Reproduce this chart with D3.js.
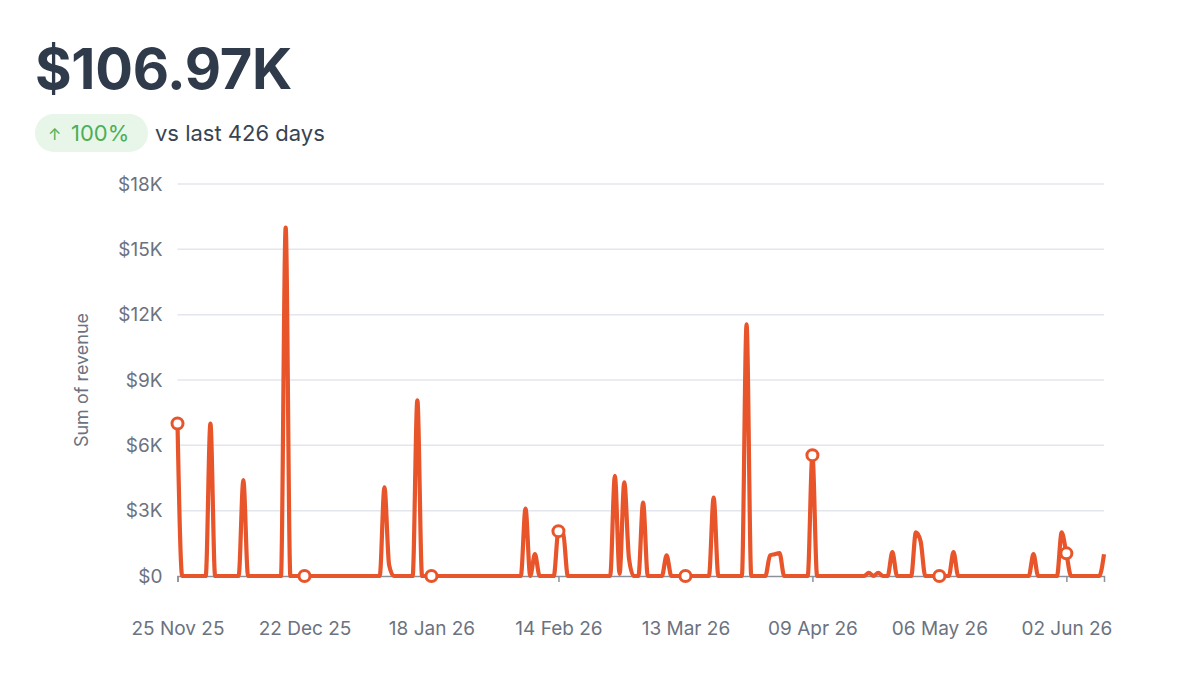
<!DOCTYPE html>
<html>
<head>
<meta charset="utf-8">
<script src="https://cdn.jsdelivr.net/npm/d3@7"></script>
<style>
  body { margin: 0; background: #fff; font-family: Inter, "Noto Sans", sans-serif; }
  .chart text { font-family: Inter, "Noto Sans", sans-serif; }
</style>
</head>
<body>
<div class="chart"></div>
<script>
// Revenue chart

var svgWidth = 1200;
var svgHeight = 685;

var margin = { top: 184, right: 96, bottom: 109, left: 177.5 };
var width = 1104 - margin.left;
var height = 576 - margin.top;

// headline numbers
var totalLabel = "$106.97K";
var changeLabel = "100%";
var compareLabel = "vs last 426 days";

// first and last day of the series
var startDate = "2025-11-25";
var endDate = "2026-06-10";

// daily revenue ($), one value per day from 25 Nov 25
var dailyRevenue = [
  // 25 Nov - 21 Dec
  7000, 0, 0, 0, 0, 0, 0, 7000, 0, 0, 0, 0, 0, 0, 4400, 0, 0, 0, 0, 0, 0, 0, 0, 16000, 0, 0, 0,
  // 22 Dec - 17 Jan
  0, 0, 0, 0, 0, 0, 0, 0, 0, 0, 0, 0, 0, 0, 0, 0, 0, 4070, 500, 0, 0, 0, 0, 0, 8070, 0, 0,
  // 18 Jan - 13 Feb
  0, 0, 0, 0, 0, 0, 0, 0, 0, 0, 0, 0, 0, 0, 0, 0, 0, 0, 0, 0, 3100, 0, 1000, 0, 0, 0, 0,
  // 14 Feb - 12 Mar
  2060, 1950, 0, 0, 0, 0, 0, 0, 0, 0, 0, 0, 4600, 100, 4300, 800, 0, 0, 3370, 0, 0, 0, 0, 950, 0, 0, 0,
  // 13 Mar - 08 Apr
  0, 0, 0, 0, 0, 0, 3600, 0, 0, 0, 0, 0, 0, 11550, 0, 0, 0, 0, 950, 1000, 1050, 0, 0, 0, 0, 0, 0,
  // 09 Apr - 05 May
  5550, 0, 0, 0, 0, 0, 0, 0, 0, 0, 0, 0, 150, 0, 150, 0, 0, 1100, 0, 0, 0, 0, 2000, 1600, 0, 0, 0,
  // 06 May - 01 Jun
  0, 0, 0, 1100, 0, 0, 0, 0, 0, 0, 0, 0, 0, 0, 0, 0, 0, 0, 0, 0, 1000, 0, 0, 0, 0, 0, 2000,
  // 02 Jun - 10 Jun
  1040, 0, 0, 0, 0, 0, 0, 0, 1000
];

// x tick dates (every 27 days), also where the markers sit
var tickDates = ["2025-11-25", "2025-12-22", "2026-01-18", "2026-02-14",
  "2026-03-13", "2026-04-09", "2026-05-06", "2026-06-02"];

var yTicks = [0, 3000, 6000, 9000, 12000, 15000, 18000];

var parseDate = d3.utcParse("%Y-%m-%d");
var formatDate = d3.utcFormat("%d %b %y");

var start = parseDate(startDate);
var revenueData = dailyRevenue.map(function (v, i) {
  return { date: d3.utcDay.offset(start, i), value: v };
});

var svg = d3.select(".chart")
  .append("svg")
  .attr("width", svgWidth)
  .attr("height", svgHeight);

// header
svg.append("text")
  .attr("x", 35)
  .attr("y", 89)
  .attr("font-size", 56)
  .attr("font-weight", 700)
  .attr("fill", "#2f3a4b")
  .attr("letter-spacing", "-0.3")
  .text(totalLabel);

svg.append("rect")
  .attr("x", 35)
  .attr("y", 114)
  .attr("width", 113)
  .attr("height", 38)
  .attr("rx", 19)
  .attr("fill", "#e7f6e9");

svg.append("text")
  .attr("x", 48)
  .attr("y", 140)
  .attr("font-size", 16)
  .attr("fill", "#4caf56")
  .text("↑");

svg.append("text")
  .attr("x", 71)
  .attr("y", 141)
  .attr("font-size", 22)
  .attr("fill", "#4caf56")
  .text(changeLabel);

svg.append("text")
  .attr("x", 155)
  .attr("y", 141)
  .attr("font-size", 22)
  .attr("fill", "#3a4350")
  .text(compareLabel);

var chartGroup = svg.append("g")
  .attr("transform", `translate(${margin.left}, ${margin.top})`);

var xScale = d3.scaleUtc()
  .domain([parseDate(startDate), parseDate(endDate)])
  .range([0, width]);

var yScale = d3.scaleLinear()
  .domain([0, 18000])
  .range([height, 0]);

// gridlines
chartGroup.append("g")
  .selectAll("line")
  .data(yTicks.slice(1))
  .enter()
  .append("line")
  .attr("x1", 0)
  .attr("x2", width)
  .attr("y1", d => yScale(d))
  .attr("y2", d => yScale(d))
  .attr("stroke", "#e3e6ec")
  .attr("stroke-width", 1.5);

// y axis labels
var leftAxis = d3.axisLeft(yScale)
  .tickValues(yTicks)
  .tickSize(0)
  .tickPadding(15)
  .tickFormat(d => d === 0 ? "$0" : "$" + d / 1000 + "K");

var yAxis = chartGroup.append("g").call(leftAxis);
yAxis.select(".domain").remove();
yAxis.selectAll("text")
  .attr("font-size", 19)
  .attr("fill", "#6b7280");

// x axis
var bottomAxis = d3.axisBottom(xScale)
  .tickValues(tickDates.map(parseDate))
  .tickSize(6)
  .tickPadding(40)
  .tickFormat(formatDate);

var xAxis = chartGroup.append("g")
  .attr("transform", `translate(0, ${height})`)
  .call(bottomAxis);
xAxis.select(".domain").attr("stroke", "#8b929c").attr("stroke-width", 1.5);
xAxis.selectAll(".tick line").attr("stroke", "#8b929c").attr("stroke-width", 1.5);
xAxis.selectAll("text")
  .attr("font-size", 19)
  .attr("fill", "#6b7280");

// axis title
chartGroup.append("text")
  .attr("transform", "rotate(-90)")
  .attr("x", -(380 - margin.top))
  .attr("y", 82 - margin.left)
  .attr("text-anchor", "middle")
  .attr("dy", "0.35em")
  .attr("font-size", 18)
  .attr("fill", "#6b7280")
  .text("Sum of revenue");

// revenue line
var line = d3.line()
  .x(d => xScale(d.date))
  .y(d => yScale(d.value))
  .curve(d3.curveMonotoneX);

chartGroup.append("path")
  .datum(revenueData)
  .attr("d", line)
  .attr("fill", "none")
  .attr("stroke", "#e8552b")
  .attr("stroke-width", 4.2)
  .attr("stroke-linejoin", "round");

// markers at the tick dates
var markerData = tickDates.map(function (t) {
  var d = parseDate(t);
  return revenueData.find(r => +r.date === +d);
});

chartGroup.selectAll("circle")
  .data(markerData)
  .enter()
  .append("circle")
  .attr("cx", d => xScale(d.date))
  .attr("cy", d => yScale(d.value))
  .attr("r", 5.5)
  .attr("fill", "#fff")
  .attr("stroke", "#e8552b")
  .attr("stroke-width", 3);
</script>
</body>
</html>
